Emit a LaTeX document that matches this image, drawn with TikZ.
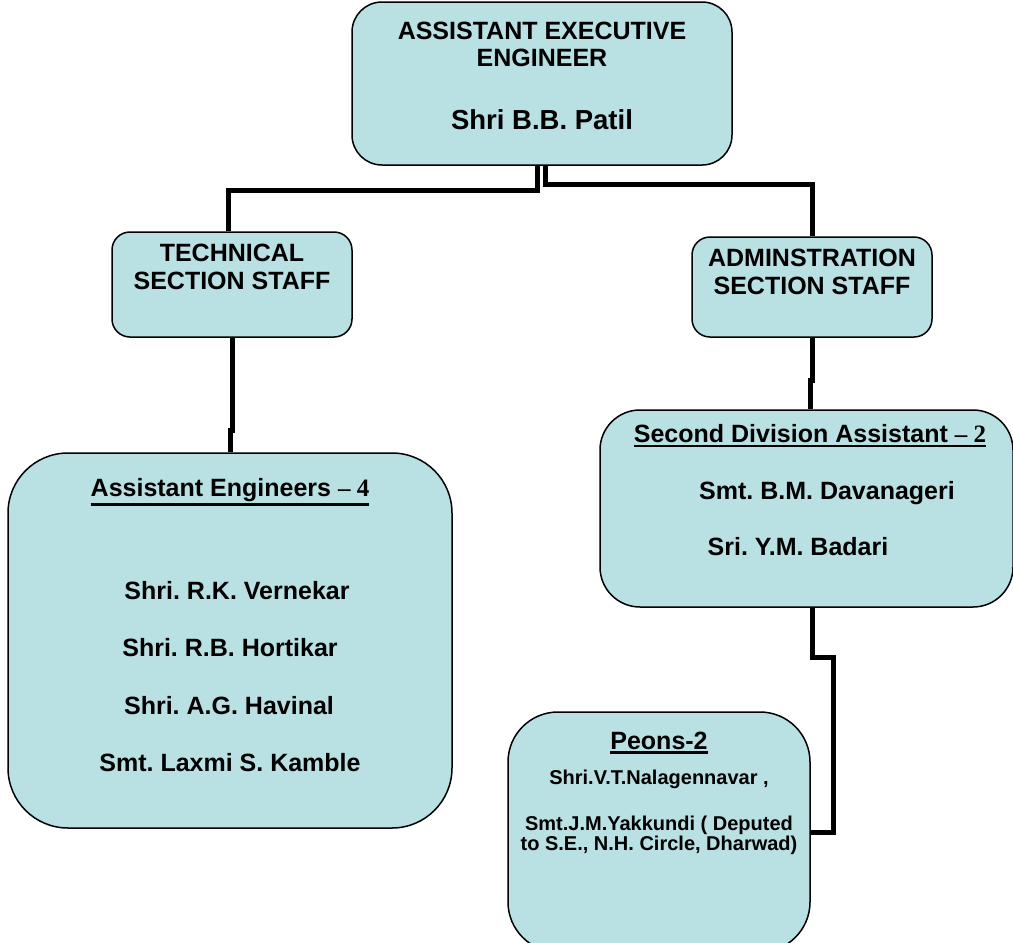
\documentclass[tikz,border=0pt]{standalone}
\usepackage{fontspec}
\setmainfont{Liberation Sans}
\newfontfamily\numfont{Liberation Serif}
\usetikzlibrary{positioning}
\frenchspacing

\definecolor{boxblue}{RGB}{185,224,227}
\newcommand\uline[1]{\vtop{\hbox{#1}\kern1.5pt\hrule height 2.5pt}}
\tikzset{
  box/.style={draw, line width=1.5pt, fill=boxblue, rounded corners=#1},
  box/.default=30pt,
  link/.style={line width=5pt, line join=miter},
  txt/.style={font=\bfseries\fontsize{25}{30}\selectfont, inner sep=0pt},
  small/.style={font=\bfseries\fontsize{20}{18.5}\selectfont, inner sep=0pt, align=center}
}

\begin{document}
\begin{tikzpicture}[x=1pt, y=-1pt]
\useasboundingbox (0,0) rectangle (1013,943);
% boxes
\node[box, minimum width=380, minimum height=163] (aee) at (542,83.5) {};
\node[box=18pt, minimum width=240, minimum height=105] (tech) at (232,284.5) {};
\node[box=18pt, minimum width=240, minimum height=100] (admin) at (812,287) {};
\node[box=60pt, minimum width=444, minimum height=375] (ae) at (230,640.5) {};
\node[box=40pt, minimum width=413, minimum height=197] (sda) at (806.5,508.5) {};
\node[box=50pt, minimum width=302, minimum height=240] (peons) at (659,832) {};
% connectors
\draw[link] ([xshift=-5]aee.south) -- ++(0,25) -| ([xshift=-4]tech.north);
\draw[link] ([xshift=3]aee.south) -- ++(0,19) -| (admin.north);
\draw[link] (tech.south) -- ++(0,93) -| (ae.north);
\draw[link] (admin.south) -- ++(0,43) -| ([xshift=4]sda.north);
\draw[link] ([xshift=6]sda.south) -- ++(0,50) -- ++(21,0) |- (peons.east);
% texts
\node[txt] (aee1) at (542,31) {ASSISTANT EXECUTIVE};
\node[txt] (aee2) at (542,58) {ENGINEER};
\node[txt, font=\bfseries\fontsize{27.5}{32}\selectfont] (aee3) at (542,120) {Shri B.B. Patil};
\node[txt] (tech1) at (232,253) {TECHNICAL};
\node[txt] (tech2) at (232,281) {SECTION STAFF};
\node[txt] (admin1) at (812,258) {ADMINSTRATION};
\node[txt] (admin2) at (812,286) {SECTION STAFF};
\node[txt] (aehead) at (230,492) {\uline{Assistant Engineers {\numfont\bfseries – 4}}};
\node[txt] (ae1) at (237,591) {Shri. R.K. Vernekar};
\node[txt] (ae2) at (230,648) {Shri. R.B. Hortikar};
\node[txt] (ae3) at (229,706) {Shri. A.G. Havinal};
\node[txt] (ae4) at (230,763) {Smt. Laxmi S. Kamble};
\node[txt] (sdahead) at (810,436) {\uline{Second Division Assistant {\numfont\bfseries – 2}}};
\node[txt] (sda1) at (827,493) {Smt. B.M. Davanageri};
\node[txt] (sda2) at (798,547) {Sri. Y.M. Badari};
\node[txt] (peonhead) at (659,743) {\uline{Peons-2}};
\node[small] (peon1) at (659,779) {Shri.V.T.Nalagennavar ,};
\node[small] (peon2) at (659,835) {Smt.J.M.Yakkundi ( Deputed\\to S.E., N.H. Circle, Dharwad)};
\end{tikzpicture}
\end{document}
